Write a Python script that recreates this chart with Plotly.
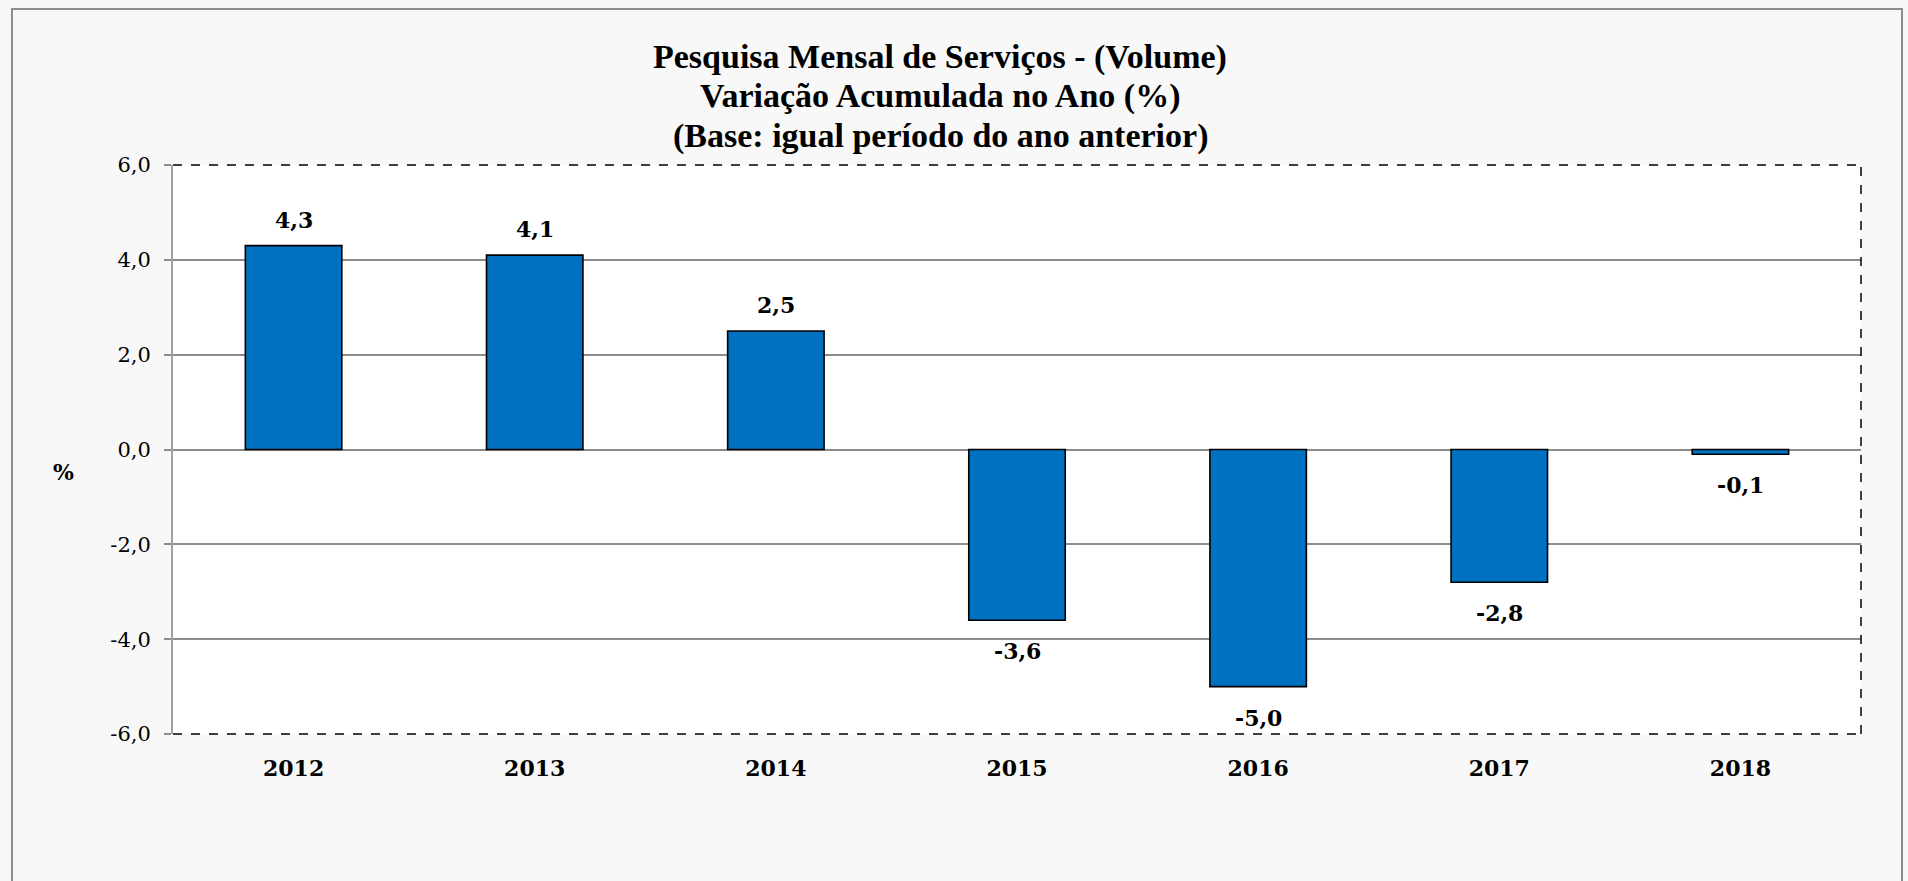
import plotly.graph_objects as go

years = ["2012", "2013", "2014", "2015", "2016", "2017", "2018"]
variation = [4.3, 4.1, 2.5, -3.6, -5.0, -2.8, -0.1]
y_ticks = [-6.0, -4.0, -2.0, 0.0, 2.0, 4.0, 6.0]
title_lines = [
    "Pesquisa Mensal de Serviços - (Volume)",
    "Variação Acumulada no Ano (%)",
    "(Base: igual período do ano anterior)",
]

FONT = "DejaVu Serif"
TITLE_FONT = "Liberation Serif"
GRAY = "#8c8c8c"


def _br(v):
    # Brazilian decimal comma, plain hyphen for the sign
    return f"{v:.1f}".replace(".", ",")


fig = go.Figure(
    go.Bar(
        x=years,
        y=variation,
        marker=dict(color="#0070C0", line=dict(color="black", width=1.6)),
        width=0.4,
        hoverinfo="x+y",
    )
)

# value labels, above positive bars / below negative ones
# (category index as x: "2012" would otherwise be read as a number)
for i, v in enumerate(variation):
    fig.add_annotation(
        x=i, y=v, text=_br(v), showarrow=False,
        xanchor="center", yanchor="middle", yshift=26 if v >= 0 else -31,
        font=dict(family=FONT, size=22, color="black", weight="bold"),
    )

fig.update_layout(
    width=1908,
    height=881,
    margin=dict(l=173, r=47, t=165, b=147),
    paper_bgcolor="#f8f8f8",
    plot_bgcolor="white",
    font=dict(family=FONT, color="black"),
    showlegend=False,
    xaxis=dict(
        type="category",
        showgrid=False,
        zeroline=False,
        showline=False,
        ticks="",
        tickfont=dict(family=FONT, size=22, color="black", weight="bold"),
        ticklabelstandoff=19,
        range=[-0.5, 6.5],
    ),
    # only used for the small tick marks on the zero line between categories
    xaxis2=dict(
        overlaying="x",
        anchor="free",
        position=0.5,
        range=[-0.5, 6.5],
        tickvals=[0.5, 1.5, 2.5, 3.5, 4.5, 5.5],
        ticks="outside",
        ticklen=8,
        tickwidth=2,
        tickcolor=GRAY,
        showticklabels=False,
        showgrid=False,
        zeroline=False,
        showline=False,
    ),
    yaxis=dict(
        range=[-6, 6],
        tickvals=y_ticks,
        ticktext=[_br(v) for v in y_ticks],
        tickfont=dict(family=FONT, size=21, color="black"),
        ticklabelstandoff=9,
        ticks="outside",
        ticklen=7,
        tickwidth=2,
        tickcolor=GRAY,
        showgrid=True,
        gridcolor=GRAY,
        gridwidth=1.5,
        zeroline=True,
        zerolinecolor=GRAY,
        zerolinewidth=2,
        showline=True,
        linecolor="#a0a0a0",
        linewidth=2,
        layer="above traces",
    ),
)

# title, one annotation per line to keep the tight line spacing
for line, ty in zip(title_lines, [1.1898, 1.1212, 1.0510]):
    fig.add_annotation(
        text=line, xref="paper", yref="paper", x=0.4544, y=ty,
        xanchor="center", yanchor="middle", showarrow=False,
        font=dict(family=TITLE_FONT, size=34, color="black", weight="bold"),
    )

# dashed plot-area border (top, right, bottom)
for x0, y0, x1, y1 in [(0, 1, 1, 1), (1, 0, 1, 1), (0, 0, 1, 0)]:
    fig.add_shape(type="line", xref="paper", yref="paper",
                  x0=x0, y0=y0, x1=x1, y1=y1,
                  line=dict(color="black", width=1.5, dash="dash"))

# outer chart frame
fig.add_shape(type="rect", xref="paper", yref="paper",
              x0=-0.0954, y0=-0.3, x1=1.0243, y1=1.274,
              line=dict(color=GRAY, width=2), layer="below")

fig.add_annotation(
    text="%", xref="paper", yref="paper", x=-0.0646, y=0.4605,
    xanchor="center", yanchor="middle", showarrow=False,
    font=dict(family=FONT, size=22, color="black", weight="bold"),
)

fig.write_html(
    "out.html",
    config={"displayModeBar": False},
    post_script="document.body.style.margin='0';",
)
